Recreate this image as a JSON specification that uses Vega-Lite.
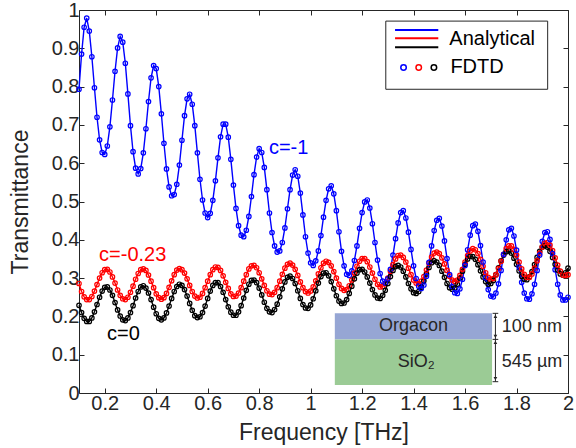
{
"$schema":"https://vega.github.io/schema/vega-lite/v6.json",
"width":489,"height":383,
"autosize":{"type":"none"},
"padding":{"left":79,"top":10,"right":8,"bottom":55},
"background":"#FFFFFF",
"config":{
 "view":{"stroke":"#262626","strokeWidth":1},
 "axis":{"grid":false,"domain":false,"tickColor":"#262626","tickSize":-5,"tickWidth":1,"labelFont":"Liberation Sans","labelFontSize":20,"labelColor":"#262626","labelPadding":5,"titleFont":"Liberation Sans","titleFontSize":23,"titleColor":"#262626","titleFontWeight":"normal","labelFlush":false,"labelOverlap":false,"labelBound":false},
 "text":{"font":"Liberation Sans"}
},
"datasets":{
"one":[{}],
"curves":[
{"f":0.10,"b":0.793,"r":0.286,"k":0.229},
{"f":0.11,"b":0.885,"r":0.265,"k":0.210},
{"f":0.12,"b":0.955,"r":0.251,"k":0.195},
{"f":0.13,"b":0.979,"r":0.244,"k":0.187},
{"f":0.14,"b":0.945,"r":0.244,"k":0.187},
{"f":0.15,"b":0.878,"r":0.252,"k":0.196},
{"f":0.16,"b":0.797,"r":0.266,"k":0.212},
{"f":0.17,"b":0.720,"r":0.283,"k":0.231},
{"f":0.18,"b":0.661,"r":0.300,"k":0.250},
{"f":0.19,"b":0.628,"r":0.314,"k":0.266},
{"f":0.20,"b":0.623,"r":0.322,"k":0.276},
{"f":0.21,"b":0.645,"r":0.323,"k":0.277},
{"f":0.22,"b":0.695,"r":0.316,"k":0.269},
{"f":0.23,"b":0.765,"r":0.303,"k":0.255},
{"f":0.24,"b":0.840,"r":0.287,"k":0.236},
{"f":0.25,"b":0.901,"r":0.269,"k":0.217},
{"f":0.26,"b":0.931,"r":0.255,"k":0.201},
{"f":0.27,"b":0.916,"r":0.246,"k":0.191},
{"f":0.28,"b":0.861,"r":0.244,"k":0.189},
{"f":0.29,"b":0.781,"r":0.250,"k":0.196},
{"f":0.30,"b":0.698,"r":0.263,"k":0.210},
{"f":0.31,"b":0.630,"r":0.279,"k":0.228},
{"f":0.32,"b":0.587,"r":0.297,"k":0.248},
{"f":0.33,"b":0.572,"r":0.312,"k":0.265},
{"f":0.34,"b":0.586,"r":0.322,"k":0.277},
{"f":0.35,"b":0.627,"r":0.324,"k":0.280},
{"f":0.36,"b":0.690,"r":0.320,"k":0.274},
{"f":0.37,"b":0.761,"r":0.308,"k":0.261},
{"f":0.38,"b":0.823,"r":0.292,"k":0.244},
{"f":0.39,"b":0.855,"r":0.275,"k":0.224},
{"f":0.40,"b":0.847,"r":0.259,"k":0.207},
{"f":0.41,"b":0.800,"r":0.249,"k":0.195},
{"f":0.42,"b":0.729,"r":0.245,"k":0.191},
{"f":0.43,"b":0.652,"r":0.249,"k":0.196},
{"f":0.44,"b":0.585,"r":0.260,"k":0.209},
{"f":0.45,"b":0.538,"r":0.276,"k":0.227},
{"f":0.46,"b":0.515,"r":0.293,"k":0.247},
{"f":0.47,"b":0.518,"r":0.309,"k":0.265},
{"f":0.48,"b":0.545,"r":0.321,"k":0.278},
{"f":0.49,"b":0.595,"r":0.325,"k":0.284},
{"f":0.50,"b":0.660,"r":0.322,"k":0.281},
{"f":0.51,"b":0.724,"r":0.313,"k":0.270},
{"f":0.52,"b":0.768,"r":0.298,"k":0.253},
{"f":0.53,"b":0.780,"r":0.281,"k":0.234},
{"f":0.54,"b":0.754,"r":0.265,"k":0.216},
{"f":0.55,"b":0.698,"r":0.253,"k":0.202},
{"f":0.56,"b":0.627,"r":0.248,"k":0.197},
{"f":0.57,"b":0.558,"r":0.250,"k":0.199},
{"f":0.58,"b":0.504,"r":0.260,"k":0.210},
{"f":0.59,"b":0.470,"r":0.275,"k":0.227},
{"f":0.60,"b":0.458,"r":0.292,"k":0.247},
{"f":0.61,"b":0.469,"r":0.309,"k":0.266},
{"f":0.62,"b":0.503,"r":0.322,"k":0.281},
{"f":0.63,"b":0.554,"r":0.329,"k":0.288},
{"f":0.64,"b":0.614,"r":0.328,"k":0.288},
{"f":0.65,"b":0.669,"r":0.320,"k":0.278},
{"f":0.66,"b":0.702,"r":0.306,"k":0.263},
{"f":0.67,"b":0.702,"r":0.289,"k":0.244},
{"f":0.68,"b":0.668,"r":0.273,"k":0.225},
{"f":0.69,"b":0.610,"r":0.259,"k":0.211},
{"f":0.70,"b":0.543,"r":0.252,"k":0.203},
{"f":0.71,"b":0.482,"r":0.253,"k":0.203},
{"f":0.72,"b":0.437,"r":0.261,"k":0.212},
{"f":0.73,"b":0.412,"r":0.275,"k":0.228},
{"f":0.74,"b":0.408,"r":0.292,"k":0.248},
{"f":0.75,"b":0.425,"r":0.309,"k":0.268},
{"f":0.76,"b":0.461,"r":0.324,"k":0.284},
{"f":0.77,"b":0.513,"r":0.332,"k":0.294},
{"f":0.78,"b":0.570,"r":0.333,"k":0.295},
{"f":0.79,"b":0.616,"r":0.327,"k":0.288},
{"f":0.80,"b":0.638,"r":0.314,"k":0.274},
{"f":0.81,"b":0.628,"r":0.298,"k":0.256},
{"f":0.82,"b":0.589,"r":0.281,"k":0.237},
{"f":0.83,"b":0.531,"r":0.267,"k":0.221},
{"f":0.84,"b":0.470,"r":0.258,"k":0.212},
{"f":0.85,"b":0.419,"r":0.257,"k":0.210},
{"f":0.86,"b":0.384,"r":0.263,"k":0.218},
{"f":0.87,"b":0.368,"r":0.275,"k":0.232},
{"f":0.88,"b":0.371,"r":0.292,"k":0.251},
{"f":0.89,"b":0.393,"r":0.310,"k":0.272},
{"f":0.90,"b":0.431,"r":0.326,"k":0.290},
{"f":0.91,"b":0.481,"r":0.336,"k":0.302},
{"f":0.92,"b":0.531,"r":0.339,"k":0.305},
{"f":0.93,"b":0.569,"r":0.334,"k":0.299},
{"f":0.94,"b":0.583,"r":0.323,"k":0.286},
{"f":0.95,"b":0.566,"r":0.307,"k":0.267},
{"f":0.96,"b":0.522,"r":0.290,"k":0.247},
{"f":0.97,"b":0.465,"r":0.275,"k":0.231},
{"f":0.98,"b":0.408,"r":0.265,"k":0.222},
{"f":0.99,"b":0.365,"r":0.261,"k":0.221},
{"f":1.00,"b":0.340,"r":0.266,"k":0.230},
{"f":1.01,"b":0.333,"r":0.277,"k":0.246},
{"f":1.02,"b":0.345,"r":0.293,"k":0.267},
{"f":1.03,"b":0.371,"r":0.311,"k":0.287},
{"f":1.04,"b":0.411,"r":0.327,"k":0.304},
{"f":1.05,"b":0.459,"r":0.339,"k":0.313},
{"f":1.06,"b":0.503,"r":0.344,"k":0.314},
{"f":1.07,"b":0.533,"r":0.341,"k":0.306},
{"f":1.08,"b":0.541,"r":0.332,"k":0.291},
{"f":1.09,"b":0.520,"r":0.317,"k":0.272},
{"f":1.10,"b":0.476,"r":0.300,"k":0.254},
{"f":1.11,"b":0.421,"r":0.284,"k":0.240},
{"f":1.12,"b":0.370,"r":0.273,"k":0.234},
{"f":1.13,"b":0.332,"r":0.268,"k":0.235},
{"f":1.14,"b":0.310,"r":0.270,"k":0.244},
{"f":1.15,"b":0.307,"r":0.280,"k":0.260},
{"f":1.16,"b":0.319,"r":0.295,"k":0.279},
{"f":1.17,"b":0.346,"r":0.313,"k":0.298},
{"f":1.18,"b":0.384,"r":0.331,"k":0.313},
{"f":1.19,"b":0.430,"r":0.344,"k":0.322},
{"f":1.20,"b":0.471,"r":0.351,"k":0.323},
{"f":1.21,"b":0.499,"r":0.351,"k":0.316},
{"f":1.22,"b":0.504,"r":0.343,"k":0.303},
{"f":1.23,"b":0.483,"r":0.329,"k":0.287},
{"f":1.24,"b":0.442,"r":0.313,"k":0.270},
{"f":1.25,"b":0.393,"r":0.297,"k":0.256},
{"f":1.26,"b":0.347,"r":0.284,"k":0.248},
{"f":1.27,"b":0.312,"r":0.277,"k":0.247},
{"f":1.28,"b":0.292,"r":0.278,"k":0.255},
{"f":1.29,"b":0.287,"r":0.286,"k":0.268},
{"f":1.30,"b":0.298,"r":0.300,"k":0.286},
{"f":1.31,"b":0.323,"r":0.318,"k":0.304},
{"f":1.32,"b":0.360,"r":0.335,"k":0.320},
{"f":1.33,"b":0.403,"r":0.350,"k":0.330},
{"f":1.34,"b":0.444,"r":0.359,"k":0.333},
{"f":1.35,"b":0.471,"r":0.360,"k":0.329},
{"f":1.36,"b":0.476,"r":0.354,"k":0.318},
{"f":1.37,"b":0.457,"r":0.342,"k":0.303},
{"f":1.38,"b":0.420,"r":0.326,"k":0.286},
{"f":1.39,"b":0.375,"r":0.309,"k":0.272},
{"f":1.40,"b":0.332,"r":0.295,"k":0.262},
{"f":1.41,"b":0.299,"r":0.287,"k":0.260},
{"f":1.42,"b":0.279,"r":0.285,"k":0.265},
{"f":1.43,"b":0.273,"r":0.292,"k":0.276},
{"f":1.44,"b":0.282,"r":0.304,"k":0.293},
{"f":1.45,"b":0.305,"r":0.321,"k":0.311},
{"f":1.46,"b":0.341,"r":0.339,"k":0.328},
{"f":1.47,"b":0.384,"r":0.355,"k":0.340},
{"f":1.48,"b":0.424,"r":0.365,"k":0.345},
{"f":1.49,"b":0.451,"r":0.368,"k":0.342},
{"f":1.50,"b":0.456,"r":0.364,"k":0.333},
{"f":1.51,"b":0.436,"r":0.353,"k":0.318},
{"f":1.52,"b":0.397,"r":0.337,"k":0.302},
{"f":1.53,"b":0.351,"r":0.320,"k":0.286},
{"f":1.54,"b":0.309,"r":0.305,"k":0.275},
{"f":1.55,"b":0.278,"r":0.295,"k":0.271},
{"f":1.56,"b":0.262,"r":0.291,"k":0.274},
{"f":1.57,"b":0.260,"r":0.295,"k":0.284},
{"f":1.58,"b":0.272,"r":0.307,"k":0.300},
{"f":1.59,"b":0.297,"r":0.323,"k":0.318},
{"f":1.60,"b":0.333,"r":0.342,"k":0.336},
{"f":1.61,"b":0.374,"r":0.359,"k":0.350},
{"f":1.62,"b":0.412,"r":0.371,"k":0.357},
{"f":1.63,"b":0.437,"r":0.377,"k":0.356},
{"f":1.64,"b":0.441,"r":0.374,"k":0.349},
{"f":1.65,"b":0.422,"r":0.364,"k":0.335},
{"f":1.66,"b":0.385,"r":0.349,"k":0.319},
{"f":1.67,"b":0.342,"r":0.331,"k":0.303},
{"f":1.68,"b":0.301,"r":0.314,"k":0.291},
{"f":1.69,"b":0.270,"r":0.302,"k":0.284},
{"f":1.70,"b":0.253,"r":0.297,"k":0.286},
{"f":1.71,"b":0.251,"r":0.299,"k":0.294},
{"f":1.72,"b":0.261,"r":0.309,"k":0.309},
{"f":1.73,"b":0.285,"r":0.325,"k":0.327},
{"f":1.74,"b":0.320,"r":0.344,"k":0.345},
{"f":1.75,"b":0.362,"r":0.362,"k":0.360},
{"f":1.76,"b":0.400,"r":0.377,"k":0.369},
{"f":1.77,"b":0.426,"r":0.384,"k":0.371},
{"f":1.78,"b":0.430,"r":0.384,"k":0.365},
{"f":1.79,"b":0.410,"r":0.375,"k":0.352},
{"f":1.80,"b":0.373,"r":0.360,"k":0.336},
{"f":1.81,"b":0.329,"r":0.342,"k":0.319},
{"f":1.82,"b":0.289,"r":0.324,"k":0.305},
{"f":1.83,"b":0.261,"r":0.310,"k":0.297},
{"f":1.84,"b":0.246,"r":0.302,"k":0.296},
{"f":1.85,"b":0.245,"r":0.302,"k":0.303},
{"f":1.86,"b":0.259,"r":0.311,"k":0.317},
{"f":1.87,"b":0.284,"r":0.326,"k":0.335},
{"f":1.88,"b":0.320,"r":0.345,"k":0.354},
{"f":1.89,"b":0.360,"r":0.365,"k":0.370},
{"f":1.90,"b":0.396,"r":0.381,"k":0.381},
{"f":1.91,"b":0.419,"r":0.391,"k":0.385},
{"f":1.92,"b":0.421,"r":0.393,"k":0.381},
{"f":1.93,"b":0.401,"r":0.386,"k":0.370},
{"f":1.94,"b":0.364,"r":0.372,"k":0.354},
{"f":1.95,"b":0.322,"r":0.353,"k":0.336},
{"f":1.96,"b":0.284,"r":0.334,"k":0.321},
{"f":1.97,"b":0.256,"r":0.318,"k":0.311},
{"f":1.98,"b":0.243,"r":0.308,"k":0.308},
{"f":1.99,"b":0.243,"r":0.307,"k":0.314},
{"f":2.00,"b":0.250,"r":0.309,"k":0.326}
]},
"resolve":{"axis":{"x":"independent","y":"independent"}},
"layer":[
{"data":{"name":"curves"},"transform":[{"fold":["k","r","b"],"as":["s","t"]}],
 "mark":{"type":"line","strokeWidth":1.4},
 "encoding":{
  "x":{"field":"f","type":"quantitative","scale":{"domain":[0.1,2],"nice":false,"zero":false},"axis":{"orient":"bottom","values":[0.2,0.4,0.6,0.8,1,1.2,1.4,1.6,1.8,2],"format":"~g","title":"Frequency [THz]","titlePadding":8}},
  "y":{"field":"t","type":"quantitative","scale":{"domain":[0,1],"nice":false,"zero":false},"axis":{"orient":"left","values":[0,0.1,0.2,0.3,0.4,0.5,0.6,0.7,0.8,0.9,1],"format":"~g","title":"Transmittance","titlePadding":19}},
  "color":{"field":"s","type":"nominal","scale":{"domain":["b","r","k"],"range":["#0000FF","#FF0000","#000000"]},"legend":null},
  "detail":{"field":"s"}
 }},
{"data":{"name":"curves"},"transform":[{"fold":["k","r","b"],"as":["s","t"]}],
 "mark":{"type":"point","shape":"circle","filled":false,"size":20,"strokeWidth":1.2,"opacity":1},
 "encoding":{
  "x":{"field":"f","type":"quantitative","axis":{"orient":"top","values":[0.2,0.4,0.6,0.8,1,1.2,1.4,1.6,1.8,2],"labels":false,"title":null}},
  "y":{"field":"t","type":"quantitative","axis":{"orient":"right","values":[0,0.1,0.2,0.3,0.4,0.5,0.6,0.7,0.8,0.9,1],"labels":false,"title":null}},
  "color":{"field":"s","type":"nominal","scale":{"domain":["b","r","k"],"range":["#0000FF","#FF0000","#000000"]},"legend":null}
 }},
{"data":{"name":"one"},"mark":{"type":"text","align":"left","baseline":"middle","fontSize":20,"color":"#0000FF"},
 "encoding":{"x":{"datum":0.838,"type":"quantitative","axis":null},"y":{"datum":0.639,"type":"quantitative","axis":null},"text":{"value":"c=-1"}}},
{"data":{"name":"one"},"mark":{"type":"text","align":"left","baseline":"middle","fontSize":20,"color":"#FF0000"},
 "encoding":{"x":{"datum":0.178,"type":"quantitative","axis":null},"y":{"datum":0.36,"type":"quantitative","axis":null},"text":{"value":"c=-0.23"}}},
{"data":{"name":"one"},"mark":{"type":"text","align":"left","baseline":"middle","fontSize":20,"color":"#000000"},
 "encoding":{"x":{"datum":0.209,"type":"quantitative","axis":null},"y":{"datum":0.154,"type":"quantitative","axis":null},"text":{"value":"c=0"}}},
{"data":{"name":"one"},"mark":{"type":"rect","fill":"#FFFFFF","stroke":"#262626","strokeWidth":1},
 "encoding":{"x":{"datum":1.292,"type":"quantitative","axis":null},"x2":{"datum":1.921},"y":{"datum":0.793,"type":"quantitative","axis":null},"y2":{"datum":0.971}}},
{"data":{"name":"one"},"mark":{"type":"rule","color":"#0000FF","strokeWidth":2},
 "encoding":{"x":{"datum":1.328,"type":"quantitative","axis":null},"x2":{"datum":1.496},"y":{"datum":0.948,"type":"quantitative","axis":null}}},
{"data":{"name":"one"},"mark":{"type":"rule","color":"#FF0000","strokeWidth":2},
 "encoding":{"x":{"datum":1.328,"type":"quantitative","axis":null},"x2":{"datum":1.496},"y":{"datum":0.926,"type":"quantitative","axis":null}}},
{"data":{"name":"one"},"mark":{"type":"rule","color":"#000000","strokeWidth":2},
 "encoding":{"x":{"datum":1.328,"type":"quantitative","axis":null},"x2":{"datum":1.496},"y":{"datum":0.903,"type":"quantitative","axis":null}}},
{"data":{"name":"one"},"mark":{"type":"point","shape":"circle","filled":false,"size":30,"strokeWidth":1.5,"color":"#0000FF","opacity":1},
 "encoding":{"x":{"datum":1.361,"type":"quantitative","axis":null},"y":{"datum":0.85,"type":"quantitative","axis":null}}},
{"data":{"name":"one"},"mark":{"type":"point","shape":"circle","filled":false,"size":30,"strokeWidth":1.5,"color":"#FF0000","opacity":1},
 "encoding":{"x":{"datum":1.420,"type":"quantitative","axis":null},"y":{"datum":0.85,"type":"quantitative","axis":null}}},
{"data":{"name":"one"},"mark":{"type":"point","shape":"circle","filled":false,"size":30,"strokeWidth":1.5,"color":"#000000","opacity":1},
 "encoding":{"x":{"datum":1.479,"type":"quantitative","axis":null},"y":{"datum":0.85,"type":"quantitative","axis":null}}},
{"data":{"name":"one"},"mark":{"type":"text","align":"left","baseline":"middle","fontSize":20,"color":"#000000"},
 "encoding":{"x":{"datum":1.539,"type":"quantitative","axis":null},"y":{"datum":0.925,"type":"quantitative","axis":null},"text":{"value":"Analytical"}}},
{"data":{"name":"one"},"mark":{"type":"text","align":"left","baseline":"middle","fontSize":20,"color":"#000000"},
 "encoding":{"x":{"datum":1.543,"type":"quantitative","axis":null},"y":{"datum":0.85,"type":"quantitative","axis":null},"text":{"value":"FDTD"}}},
{"data":{"name":"one"},"mark":{"type":"rect","fill":"#96A6D4","strokeWidth":0},
 "encoding":{"x":{"datum":1.094,"type":"quantitative","axis":null},"x2":{"datum":1.705},"y":{"datum":0.14,"type":"quantitative","axis":null},"y2":{"datum":0.208}}},
{"data":{"name":"one"},"mark":{"type":"rect","fill":"#9BCB95","strokeWidth":0},
 "encoding":{"x":{"datum":1.094,"type":"quantitative","axis":null},"x2":{"datum":1.705},"y":{"datum":0.021,"type":"quantitative","axis":null},"y2":{"datum":0.14}}},
{"data":{"name":"one"},"mark":{"type":"text","align":"center","baseline":"middle","fontSize":18,"color":"#262626"},
 "encoding":{"x":{"datum":1.40,"type":"quantitative","axis":null},"y":{"datum":0.175,"type":"quantitative","axis":null},"text":{"value":"Orgacon"}}},
{"data":{"name":"one"},"mark":{"type":"text","align":"center","baseline":"middle","fontSize":18,"color":"#262626"},
 "encoding":{"x":{"datum":1.41,"type":"quantitative","axis":null},"y":{"datum":0.082,"type":"quantitative","axis":null},"text":{"value":"SiO₂"}}},
{"data":{"name":"one"},"mark":{"type":"rule","color":"#262626","strokeWidth":1},
 "encoding":{"x":{"datum":1.718,"type":"quantitative","axis":null},"y":{"datum":0.0295,"type":"quantitative","axis":null},"y2":{"datum":0.208}}},
{"data":{"name":"one"},"mark":{"type":"rule","color":"#262626","strokeWidth":1},
 "encoding":{"x":{"datum":1.707,"type":"quantitative","axis":null},"x2":{"datum":1.729},"y":{"datum":0.208,"type":"quantitative","axis":null}}},
{"data":{"name":"one"},"mark":{"type":"rule","color":"#262626","strokeWidth":1},
 "encoding":{"x":{"datum":1.707,"type":"quantitative","axis":null},"x2":{"datum":1.729},"y":{"datum":0.14,"type":"quantitative","axis":null}}},
{"data":{"name":"one"},"mark":{"type":"rule","color":"#262626","strokeWidth":1},
 "encoding":{"x":{"datum":1.707,"type":"quantitative","axis":null},"x2":{"datum":1.729},"y":{"datum":0.0295,"type":"quantitative","axis":null}}},
{"data":{"name":"one"},"mark":{"type":"point","shape":"triangle-up","filled":true,"size":14,"color":"#262626","opacity":1},
 "encoding":{"x":{"datum":1.718,"type":"quantitative","axis":null},"y":{"datum":0.2,"type":"quantitative","axis":null}}},
{"data":{"name":"one"},"mark":{"type":"point","shape":"triangle-down","filled":true,"size":14,"color":"#262626","opacity":1},
 "encoding":{"x":{"datum":1.718,"type":"quantitative","axis":null},"y":{"datum":0.148,"type":"quantitative","axis":null}}},
{"data":{"name":"one"},"mark":{"type":"point","shape":"triangle-up","filled":true,"size":14,"color":"#262626","opacity":1},
 "encoding":{"x":{"datum":1.718,"type":"quantitative","axis":null},"y":{"datum":0.132,"type":"quantitative","axis":null}}},
{"data":{"name":"one"},"mark":{"type":"point","shape":"triangle-down","filled":true,"size":14,"color":"#262626","opacity":1},
 "encoding":{"x":{"datum":1.718,"type":"quantitative","axis":null},"y":{"datum":0.0375,"type":"quantitative","axis":null}}},
{"data":{"name":"one"},"mark":{"type":"text","align":"left","baseline":"middle","fontSize":18,"color":"#262626"},
 "encoding":{"x":{"datum":1.743,"type":"quantitative","axis":null},"y":{"datum":0.173,"type":"quantitative","axis":null},"text":{"value":"100 nm"}}},
{"data":{"name":"one"},"mark":{"type":"text","align":"left","baseline":"middle","fontSize":18,"color":"#262626"},
 "encoding":{"x":{"datum":1.743,"type":"quantitative","axis":null},"y":{"datum":0.082,"type":"quantitative","axis":null},"text":{"value":"545 µm"}}}
]
}
